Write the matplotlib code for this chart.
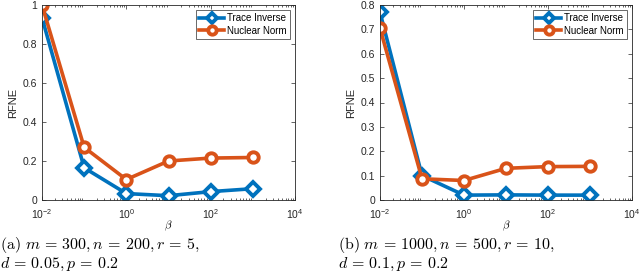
import matplotlib.pyplot as plt
import numpy as np

plt.rcParams['font.family'] = ['Liberation Sans', 'DejaVu Sans']
plt.rcParams['mathtext.fontset'] = 'cm'

beta = [1e-2, 1e-1, 1e0, 1e1, 1e2, 1e3]

# panel (a)
trace_a = [0.935, 0.165, 0.033, 0.022, 0.043, 0.058]
nuclear_a = [1.0, 0.27, 0.105, 0.200, 0.215, 0.218]
# panel (b)
trace_b = [0.770, 0.100, 0.020, 0.021, 0.020, 0.020]
nuclear_b = [0.705, 0.087, 0.080, 0.130, 0.137, 0.138]

captions = [
    "$\\mathrm{(a)}\\ m\\,=\\,300, n\\,=\\,200, r\\,=\\,5,$\n"
    "$d\\,=\\,0.05, p\\,=\\,0.2$",
    "$\\mathrm{(b)}\\ m\\,=\\,1000, n\\,=\\,500, r\\,=\\,10,$\n"
    "$d\\,=\\,0.1, p\\,=\\,0.2$",
]

blue = "#0072BD"
orange = "#D95319"

fig = plt.figure(figsize=(6.4, 2.8), dpi=100)
ax_a = fig.add_axes([42 / 640, 1 - 200 / 280, 253 / 640, 195 / 280])
ax_b = fig.add_axes([380 / 640, 1 - 200 / 280, 252 / 640, 195 / 280])

panels = [
    (ax_a, trace_a, nuclear_a, 1.0, np.arange(0, 1.01, 0.2)),
    (ax_b, trace_b, nuclear_b, 0.8, np.arange(0, 0.81, 0.1)),
]

for ax, tr, nu, ymax, yt in panels:
    ax.semilogx(beta, tr, color=blue, lw=2.6, marker="D", ms=7,
                mfc="white", mec=blue, mew=2.8, label="Trace Inverse")
    ax.semilogx(beta, nu, color=orange, lw=2.6, marker="o", ms=7.5,
                mfc="white", mec=orange, mew=2.8, label="Nuclear Norm")
    ax.set_xlim(1e-2, 1e4)
    ax.set_ylim(0, ymax)
    ax.set_yticks(yt)
    ax.set_yticklabels([f"{v:g}" for v in yt])
    ax.set_xticks([1e-2, 1e0, 1e2, 1e4])
    ax.tick_params(which="both", direction="in", top=True, right=True,
                   labelsize=7.5, colors="#262626", width=0.5)
    ax.tick_params(which="major", length=3)
    ax.tick_params(which="minor", length=1.5)
    ax.tick_params(axis="x", pad=5)
    for s in ax.spines.values():
        s.set_linewidth(0.6)
        s.set_color("#262626")
    ax.set_ylabel("RFNE", fontsize=8, color="#262626", labelpad=3)
    ax.set_xlabel("$\\beta$", fontsize=8, va="center")
    ax.xaxis.set_label_coords(0.5, -0.135)
    leg = ax.legend(loc="upper right", fontsize=7, frameon=True,
                    fancybox=False, edgecolor="#262626", handlelength=2.6,
                    borderpad=0.35, labelspacing=0.25, handletextpad=0.3,
                    borderaxespad=0.5, markerscale=0.8)
    leg.get_frame().set_linewidth(0.6)

fig.text(0 / 640, 1 - 235 / 280, captions[0], fontsize=11.5, va="top",
         ha="left", linespacing=1.1)
fig.text(338 / 640, 1 - 235 / 280, captions[1], fontsize=11.5, va="top",
         ha="left", linespacing=1.1)

fig.savefig("out.png", dpi=100)
